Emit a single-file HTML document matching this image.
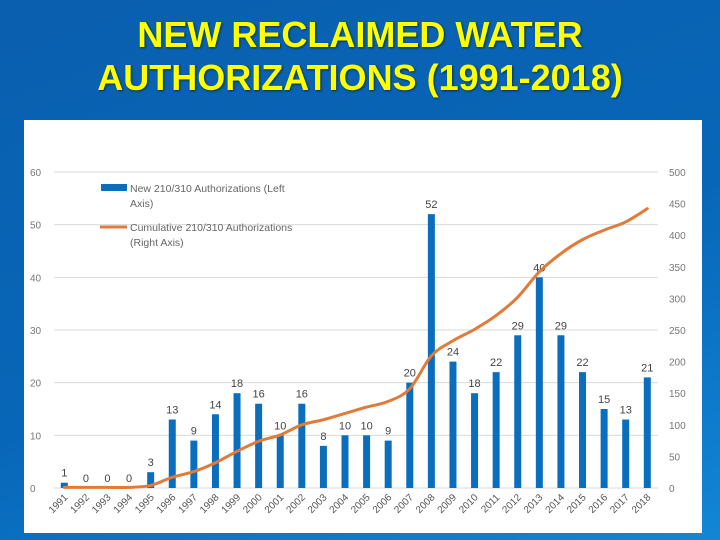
<!DOCTYPE html>
<html><head><meta charset="utf-8"><style>
body{margin:0;width:720px;height:540px;overflow:hidden;background:linear-gradient(160deg,#0a5fae 0%,#0866b8 55%,#1286d6 100%);font-family:"Liberation Sans",sans-serif}
#title{position:absolute;left:0;top:13px;width:720px;text-align:center;color:#ffff00;font-weight:bold;font-size:36px;line-height:43px;text-shadow:1px 1px 2px #034}
#panel{position:absolute;left:24px;top:120px;width:678px;height:413px;background:#fff}
svg{position:absolute;left:0;top:0}
</style></head><body>
<div id="title">NEW RECLAIMED WATER<br>AUTHORIZATIONS (1991-2018)</div>
<div id="panel"></div>
<svg id="chart" width="720" height="540"></svg>
<script>
const years=[1991,1992,1993,1994,1995,1996,1997,1998,1999,2000,2001,2002,2003,2004,2005,2006,2007,2008,2009,2010,2011,2012,2013,2014,2015,2016,2017,2018];
const newAuth=[1,0,0,0,3,13,9,14,18,16,10,16,8,10,10,9,20,52,24,18,22,29,40,29,22,15,13,21];
const leftTicks=[0,10,20,30,40,50,60];
const rightTicks=[0,50,100,150,200,250,300,350,400,450,500];
const NS='http://www.w3.org/2000/svg';
const svg=document.getElementById('chart');
const x0=54,x1=658,yTop=172,yBot=488;
const firstC=64.3,step=(647.3-64.3)/27;
const xs=i=>firstC+i*step;
const yL=v=>yBot-(v/60)*(yBot-yTop);
const yR=v=>yBot-(v/500)*(yBot-yTop);
function mk(tag,attrs,txt){const e=document.createElementNS(NS,tag);for(const k in attrs)e.setAttribute(k,attrs[k]);if(txt!==undefined)e.textContent=txt;svg.appendChild(e);return e;}
leftTicks.forEach(v=>{
 const g=mk('line',{x1:x0,x2:x1,y1:yL(v),y2:yL(v),stroke:'#d9d9d9','stroke-width':1});
 
 
 const t=mk('text',{x:30,y:yL(v)+4,'font-size':10,fill:'#777'},v);
 
 
});
rightTicks.forEach(v=>{
 const t=mk('text',{x:669,y:yR(v)+4,'font-size':10,fill:'#777'},v);
 
 
});
newAuth.forEach((v,i)=>{
 const b=mk('rect',{x:xs(i)-3.5,y:yL(v),width:7,height:yBot-yL(v),fill:'#0a6ebd'});
 
 
 const t=mk('text',{x:xs(i),y:yL(v)-6,'font-size':11,fill:'#444','text-anchor':'middle'},v);
 
 
 const yl=mk('text',{transform:`translate(${xs(i)+4},${yBot+10}) rotate(-45)`,'font-size':10,fill:'#555','text-anchor':'end'},years[i]);
 
 
});
let cum=[],s=0;newAuth.forEach(v=>{s+=v;cum.push(s);});
const pts=cum.map((v,i)=>[xs(i),yR(v)]);
let d='M'+pts[0][0]+','+pts[0][1];
for(let i=0;i<pts.length-1;i++){
 const p0=pts[i-1]||pts[i],p1=pts[i],p2=pts[i+1],p3=pts[i+2]||p2;
 const c1=[p1[0]+(p2[0]-p0[0])/6,p1[1]+(p2[1]-p0[1])/6],c2=[p2[0]-(p3[0]-p1[0])/6,p2[1]-(p3[1]-p1[1])/6];
 d+=` C${c1[0]},${c1[1]} ${c2[0]},${c2[1]} ${p2[0]},${p2[1]}`;
}
const ln=mk('path',{d:d,fill:'none',stroke:'#e07b39','stroke-width':3,'stroke-linecap':'round'});


const lb=mk('rect',{x:101,y:184,width:26,height:7,fill:'#0a6ebd'});


const l1=mk('text',{x:130,y:192,'font-size':10.5,fill:'#666'},'New 210/310 Authorizations (Left');


const l1b=mk('text',{x:130,y:207,'font-size':10.5,fill:'#666'},'Axis)');


const ll=mk('line',{x1:100,x2:127,y1:227,y2:227,stroke:'#e07b39','stroke-width':3});


const l2=mk('text',{x:130,y:231,'font-size':10.5,fill:'#666'},'Cumulative 210/310 Authorizations');


const l2b=mk('text',{x:130,y:246,'font-size':10.5,fill:'#666'},'(Right Axis)');


</script>
</body></html>
